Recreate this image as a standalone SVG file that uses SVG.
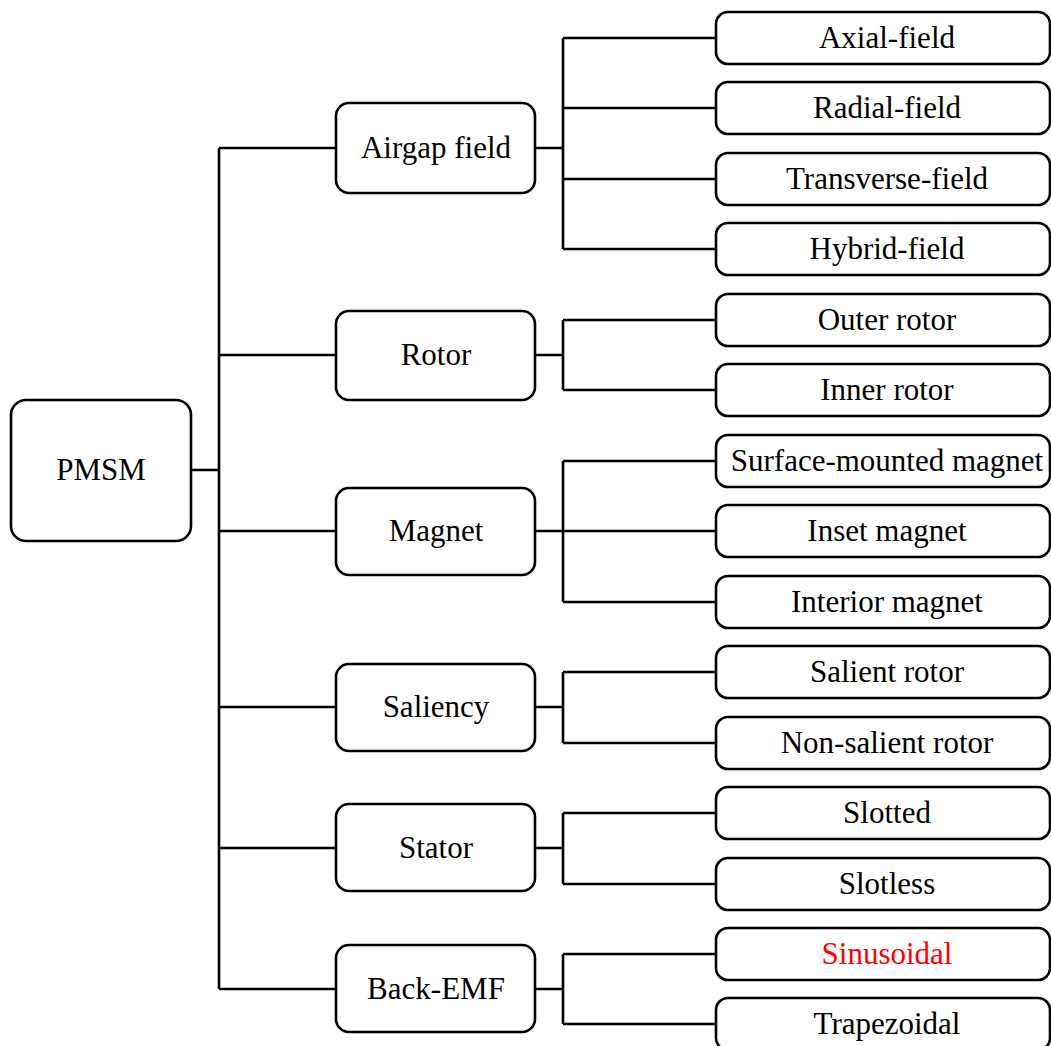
<svg xmlns="http://www.w3.org/2000/svg" width="1051" height="1046" viewBox="0 0 1051 1046">
  <style>
    .box { fill: #ffffff; stroke: #000000; stroke-width: 2.6; }
    .lbl { font-family: "Liberation Serif", "Times New Roman", serif; font-size: 31px; text-anchor: middle; fill: #000000; }
    .wire { fill: none; stroke: #000000; stroke-width: 2.6; }
  </style>
  <rect width="1051" height="1046" fill="#ffffff"/>

  <!-- connectors -->
  <g id="connectors" class="wire">
    <path d="M191 470 H219 M219 148 V989 M219 148 H336 M219 355 H336 M219 531 H336 M219 707 H336 M219 848 H336 M219 989 H336"/>
    <path d="M535 148 H563 M563 38 V249 M563 38 H716 M563 108 H716 M563 179 H716 M563 249 H716"/>
    <path d="M535 355 H563 M563 320 V390 M563 320 H716 M563 390 H716"/>
    <path d="M535 531 H563 M563 461 V602 M563 461 H716 M563 531 H716 M563 602 H716"/>
    <path d="M535 707 H563 M563 672 V743 M563 672 H716 M563 743 H716"/>
    <path d="M535 848 H563 M563 813 V884 M563 813 H716 M563 884 H716"/>
    <path d="M535 989 H563 M563 954 V1024 M563 954 H716 M563 1024 H716"/>
  </g>

  <!-- root -->
  <g id="pmsm">
    <rect class="box" x="11" y="400" width="180" height="141" rx="15"/>
    <text class="lbl" x="101" y="480">PMSM</text>
  </g>

  <!-- categories -->
  <g id="airgap-field">
    <rect class="box" x="336" y="103" width="199" height="90" rx="13"/>
    <text class="lbl" x="436" y="158">Airgap field</text>
  </g>
  <g id="rotor">
    <rect class="box" x="336" y="311" width="199" height="89" rx="13"/>
    <text class="lbl" x="436" y="365">Rotor</text>
  </g>
  <g id="magnet">
    <rect class="box" x="336" y="488" width="199" height="87" rx="13"/>
    <text class="lbl" x="436" y="541">Magnet</text>
  </g>
  <g id="saliency">
    <rect class="box" x="336" y="664" width="199" height="87" rx="13"/>
    <text class="lbl" x="436" y="717">Saliency</text>
  </g>
  <g id="stator">
    <rect class="box" x="336" y="804" width="199" height="87" rx="13"/>
    <text class="lbl" x="436" y="858">Stator</text>
  </g>
  <g id="back-emf">
    <rect class="box" x="336" y="945" width="199" height="87" rx="13"/>
    <text class="lbl" x="436" y="999">Back-EMF</text>
  </g>

  <!-- leaves -->
  <g id="axial-field">
    <rect class="box" x="716" y="12" width="334" height="52" rx="12"/>
    <text class="lbl" x="887" y="48">Axial-field</text>
  </g>
  <g id="radial-field">
    <rect class="box" x="716" y="82" width="334" height="52" rx="12"/>
    <text class="lbl" x="887" y="118">Radial-field</text>
  </g>
  <g id="transverse-field">
    <rect class="box" x="716" y="153" width="334" height="52" rx="12"/>
    <text class="lbl" x="887" y="189">Transverse-field</text>
  </g>
  <g id="hybrid-field">
    <rect class="box" x="716" y="223" width="334" height="52" rx="12"/>
    <text class="lbl" x="887" y="259">Hybrid-field</text>
  </g>
  <g id="outer-rotor">
    <rect class="box" x="716" y="294" width="334" height="52" rx="12"/>
    <text class="lbl" x="887" y="330">Outer rotor</text>
  </g>
  <g id="inner-rotor">
    <rect class="box" x="716" y="364" width="334" height="52" rx="12"/>
    <text class="lbl" x="887" y="400">Inner rotor</text>
  </g>
  <g id="surface-mounted-magnet">
    <rect class="box" x="716" y="435" width="334" height="52" rx="12"/>
    <text class="lbl" x="887" y="471">Surface-mounted magnet</text>
  </g>
  <g id="inset-magnet">
    <rect class="box" x="716" y="505" width="334" height="52" rx="12"/>
    <text class="lbl" x="887" y="541">Inset magnet</text>
  </g>
  <g id="interior-magnet">
    <rect class="box" x="716" y="576" width="334" height="52" rx="12"/>
    <text class="lbl" x="887" y="612">Interior magnet</text>
  </g>
  <g id="salient-rotor">
    <rect class="box" x="716" y="646" width="334" height="52" rx="12"/>
    <text class="lbl" x="887" y="682">Salient rotor</text>
  </g>
  <g id="non-salient-rotor">
    <rect class="box" x="716" y="717" width="334" height="52" rx="12"/>
    <text class="lbl" x="887" y="753">Non-salient rotor</text>
  </g>
  <g id="slotted">
    <rect class="box" x="716" y="787" width="334" height="52" rx="12"/>
    <text class="lbl" x="887" y="823">Slotted</text>
  </g>
  <g id="slotless">
    <rect class="box" x="716" y="858" width="334" height="52" rx="12"/>
    <text class="lbl" x="887" y="894">Slotless</text>
  </g>
  <g id="sinusoidal">
    <rect class="box" x="716" y="928" width="334" height="52" rx="12"/>
    <text class="lbl" x="887" y="964" fill="#ff0000" style="fill:#ff0000">Sinusoidal</text>
  </g>
  <g id="trapezoidal">
    <rect class="box" x="716" y="998" width="334" height="52" rx="12"/>
    <text class="lbl" x="887" y="1034">Trapezoidal</text>
  </g>
</svg>
